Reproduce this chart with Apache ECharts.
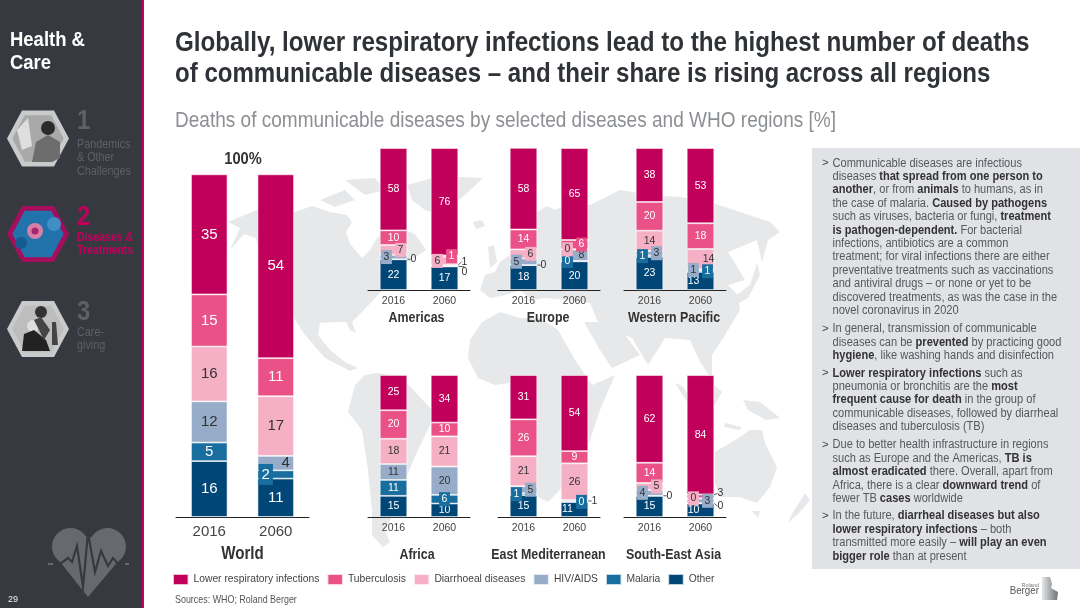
<!DOCTYPE html>
<html>
<head>
<meta charset="utf-8">
<title>Deaths of communicable diseases</title>
<style>
html, body { margin: 0; padding: 0; background: #fff; }
#main { width: 1080px; height: 608px; }
</style>
<script src="https://cdn.jsdelivr.net/npm/echarts@6/dist/echarts.min.js"></script>
</head>
<body>
<div id="main"></div>
<script>
// chart data, [2016, 2060] per region, unrounded values
var regions = ['World', 'Americas', 'Europe', 'Western Pacific', 'Africa', 'East Mediterranean', 'South-East Asia'];
var years = ['2016', '2060'];
var other = [[16.3, 11.2], [21.6, 16.6], [17.5, 20.2], [23.3, 12.7], [14.9, 9.5], [15.4, 10.6], [14.9, 9.6]];
var malaria = [[5.4, 2.4], [0.1, 0.1], [0.1, 0.3], [1.1, 0.9], [11.2, 6.1], [1.3, 0.1], [0.1, 0.2]];
var hiv = [[12, 4.2], [3, 0.9], [4.7, 8], [3, 1], [11.2, 19.9], [5, 1.2], [4, 3.2]];
var diarrhoeal = [[16, 17.4], [7, 5.8], [6.3, 0.3], [14.4, 14.3], [17.8, 21.3], [21.1, 25.9], [5, 0.2]];
var tuberculosis = [[15.2, 11.1], [10.3, 1], [14, 6.4], [20.2, 18.1], [20.1, 9.7], [26, 8.6], [14.2, 2.7]];
var lowerResp = [[35, 53.6], [58, 75.6], [57.5, 64.8], [38, 53], [24.8, 33.5], [31.2, 53.6], [61.8, 84]];

var seriesNames = ['Other', 'Malaria', 'HIV/AIDS', 'Diarrhoeal diseases', 'Tuberculosis', 'Lower respiratory infections'];
var seriesValues = [other, malaria, hiv, diarrhoeal, tuberculosis, lowerResp];
var seriesColors = ['#004677', '#186e9f', '#97acc8', '#f6b0c6', '#ea5186', '#c1005c'];
var labelColors = ['#fff', '#fff', '#333', '#333', '#fff', '#fff'];
var legendOrder = ['Lower respiratory infections', 'Tuberculosis', 'Diarrhoeal diseases', 'HIV/AIDS', 'Malaria', 'Other'];

// grid boxes: left, width, top, height, bar width
var gridBoxes = [
    [176, 133, 174, 343, 36.5],
    [368, 102, 148, 142, 27.5],
    [498, 102, 148, 142, 27.5],
    [624, 102, 148, 142, 27.5],
    [368, 102, 375, 142, 27.5],
    [498, 102, 375, 142, 27.5],
    [624, 102, 375, 142, 27.5]
];
var titleY = [554, 318, 318, 318, 555, 555, 555];
var titleShiftX = [0, -2.5, -1, -1, -2, -0.5, -1.5];

// moved labels: region, year, series, dx, dy, kind
var OTHER = 0, MAL = 1, HIV = 2, DIA = 3, TB = 4;
var labelNudges = [
    [0, 1, MAL, -10, 0, 'box'], [0, 1, HIV, 10, 0, 'plain'],
    [1, 0, DIA, 7, 0, 'box'], [1, 0, HIV, -7, 0, 'box'], [1, 0, MAL, 20, 0, 'line'],
    [1, 1, TB, 7, 0, 'box'], [1, 1, DIA, -7, 0, 'box'], [1, 1, HIV, 20, -4, 'line'], [1, 1, MAL, 20, 6, 'line'],
    [2, 0, DIA, 7, 0, 'box'], [2, 0, HIV, -7, 0, 'box'], [2, 0, MAL, 20, 0, 'line'],
    [2, 1, TB, 7, 0, 'box'], [2, 1, DIA, -7, 0, 'box'], [2, 1, HIV, 7, 0, 'plain'], [2, 1, MAL, -7, 0, 'box'],
    [3, 0, MAL, -7, 0, 'box'], [3, 0, HIV, 7, 0, 'box'],
    [3, 1, DIA, 8, 0, 'plain'], [3, 1, HIV, -7, 0, 'box'], [3, 1, MAL, 7, 0, 'box'], [3, 1, OTHER, -7, 0, 'plain'],
    [4, 1, MAL, 0, 0, 'box'],
    [5, 0, MAL, -7, 0, 'box'], [5, 0, HIV, 7, 0, 'box'],
    [5, 1, OTHER, -7, 0, 'plain'], [5, 1, MAL, 7, 0, 'box'], [5, 1, HIV, 20, 0, 'line'],
    [6, 0, DIA, 7, 0, 'box'], [6, 0, HIV, -7, 0, 'box'], [6, 0, MAL, 20, 0, 'line'],
    [6, 1, DIA, -7, 0, 'box'], [6, 1, HIV, 7, 0, 'box'], [6, 1, OTHER, -7, 0, 'plain'], [6, 1, TB, 20, -3, 'line'], [6, 1, MAL, 20, 3, 'line']
];

var panelText = [
    ['Communicable diseases are infectious',
     'diseases {b|that spread from one person to}',
     '{b|another}, or from {b|animals} to humans, as in',
     'the case of malaria. {b|Caused by pathogens}',
     'such as viruses, bacteria or fungi, {b|treatment}',
     '{b|is pathogen-dependent.} For bacterial',
     'infections, antibiotics are a common',
     'treatment; for viral infections there are either',
     'preventative treatments such as vaccinations',
     'and antiviral drugs \u2013 or none or yet to be',
     'discovered treatments, as was the case in the',
     'novel coronavirus in 2020'],
    ['In general, transmission of communicable',
     'diseases can be {b|prevented} by practicing good',
     '{b|hygiene}, like washing hands and disinfection'],
    ['{b|Lower respiratory infections} such as',
     'pneumonia or bronchitis are the {b|most}',
     '{b|frequent cause for death} in the group of',
     'communicable diseases, followed by diarrheal',
     'diseases and tuberculosis (TB)'],
    ['Due to better health infrastructure in regions',
     'such as Europe and the Americas, {b|TB is}',
     '{b|almost eradicated} there. Overall, apart from',
     'Africa, there is a clear {b|downward trend} of',
     'fewer TB {b|cases} worldwide'],
    ['In the future, {b|diarrheal diseases but also}',
     '{b|lower respiratory infections} \u2013 both',
     'transmitted more easily \u2013 {b|will play an even}',
     '{b|bigger role} than at present']
];
var panelY = [163.3, 329, 373.3, 445, 516];

// background map, rough outlines
var mapShapes = [
    [[228,222],[240,217],[257,210],[295,212],[312,206],[330,212],[347,215],[352,222],[346,232],[350,244],[362,258],[370,250],[377,238],[395,226],[415,234],[426,250],[408,262],[398,272],[378,295],[362,312],[352,322],[356,333],[350,330],[346,322],[335,322],[320,323],[318,335],[330,350],[345,362],[358,368],[350,371],[325,358],[305,335],[295,320],[280,290],[262,262],[256,238],[244,234],[230,250],[240,228]],
    [[377,373],[400,376],[418,395],[432,410],[430,425],[418,450],[405,480],[395,510],[385,530],[390,542],[383,547],[372,535],[372,510],[368,470],[362,430],[348,412],[355,385],[365,375]],
    [[500,312],[482,322],[470,340],[468,358],[478,378],[495,385],[510,383],[528,392],[534,410],[534,440],[532,470],[538,497],[548,502],[560,490],[575,470],[590,440],[600,410],[615,375],[592,385],[575,360],[558,330],[540,318],[520,318]],
    [[485,275],[480,290],[490,298],[505,295],[520,290],[532,300],[545,298],[570,300],[590,303],[598,322],[584,322],[600,350],[612,368],[640,355],[625,335],[632,338],[648,365],[665,338],[690,340],[700,362],[712,380],[712,355],[725,335],[740,310],[738,295],[728,285],[745,280],[728,252],[757,240],[762,262],[768,240],[780,232],[770,222],[740,212],[713,203],[680,197],[650,195],[620,190],[590,205],[565,205],[555,210],[547,206],[532,215],[525,240],[515,232],[510,255],[500,262],[495,272]],
    [[407,185],[440,176],[483,178],[465,195],[440,215],[425,210],[412,200]],
    [[320,200],[345,190],[355,200],[335,207]],
    [[345,180],[375,178],[385,190],[365,195]],
    [[473,222],[482,220],[485,226],[476,229]],
    [[488,247],[494,245],[497,262],[490,268]],
    [[757,263],[760,275],[748,298],[735,305],[733,298],[750,285]],
    [[675,383],[682,386],[695,404],[689,405]],
    [[695,398],[712,383],[722,392],[712,410],[700,408]],
    [[725,423],[741,427],[740,430],[724,427]],
    [[693,340],[702,340],[704,354],[696,352]],
    [[743,400],[760,402],[780,418],[766,420],[748,410]],
    [[715,452],[740,437],[750,430],[762,430],[765,443],[777,467],[770,487],[757,503],[740,497],[720,497],[715,483]],
    [[752,511],[760,511],[758,518]],
    [[805,493],[810,500],[800,512],[788,523],[792,514]]
];

// sidebar entries: hexagon centre y, offset of the first text line, colours
var sideItems = [
    {y: 138.5, first: 5.5, num: '1', lines: ['Pandemics', '& Other', 'Challenges'], border: '#c9cacc', fill: '#a9a9a9', color: '#5d6167', bold: false},
    {y: 234, first: 3, num: '2', lines: ['Diseases &', 'Treatments'], border: '#a50e5a', fill: '#2272ac', color: '#c1005c', bold: true},
    {y: 329, first: 3, num: '3', lines: ['Care-', 'giving'], border: '#c9cacc', fill: '#bdbdbd', color: '#5d6167', bold: false}
];

var sans = '"Liberation Sans", Arial, sans-serif';

function findNudge(r, y, s) {
    for (var i = 0; i < labelNudges.length; i++) {
        var n = labelNudges[i];
        if (n[0] === r && n[1] === y && n[2] === s) {
            return n;
        }
    }
    return null;
}

function hexagon(cx, cy, k) {
    var a = 31 * k, b = 16 * k, h = 28 * k;
    return [[cx - a, cy], [cx - b, cy - h], [cx + b, cy - h], [cx + a, cy], [cx + b, cy + h], [cx - b, cy + h]];
}

// the original face is condensed, so text is squeezed with scaleX
function textEl(x, y, text, size, color, weight, align, squeeze) {
    return {
        type: 'text', x: x, y: y, z: 5, scaleX: squeeze || 1,
        style: {
            text: text, fontSize: size, fontFamily: sans, fill: color,
            fontWeight: weight || 'normal', align: align || 'left', verticalAlign: 'middle'
        }
    };
}

function poly(points, color, z) {
    return {type: 'polygon', z: z, shape: {points: points}, style: {fill: color}};
}

function buildGraphic() {
    var els = [];
    var i, j;

    // map goes under everything
    mapShapes.forEach(function (pts) {
        els.push(poly(pts, '#e7e8ea', -2));
    });

    // right panel
    els.push({type: 'rect', z: -1, shape: {x: 812, y: 148, width: 268, height: 421}, style: {fill: '#e0e2e6'}});

    // sidebar
    els.push({type: 'rect', z: 1, shape: {x: 0, y: 0, width: 142, height: 608}, style: {fill: '#363a40'}});
    els.push({type: 'rect', z: 1, shape: {x: 142, y: 0, width: 2, height: 608}, style: {fill: '#c1005c'}});
    els.push(textEl(10, 40, 'Health &', 21, '#fff', 'bold', 'left', 0.88));
    els.push(textEl(10, 63, 'Care', 21, '#fff', 'bold', 'left', 0.88));

    sideItems.forEach(function (item) {
        els.push(poly(hexagon(38, item.y, 1), item.border, 2));
        els.push(poly(hexagon(38, item.y, 0.83), item.fill, 3));
        els.push(textEl(77, item.y - 16.5, item.num, 27, item.color, 'bold', 'left', 0.88));
        for (j = 0; j < item.lines.length; j++) {
            els.push(textEl(77, item.y + item.first + j * 13.5, item.lines[j], 13, item.color, item.bold ? 'bold' : 'normal', 'left', item.bold ? 0.81 : 0.83));
        }
    });

    // thumbnail contents, rough silhouettes
    els.push({type: 'circle', z: 4, shape: {cx: 48, cy: 128, r: 7}, style: {fill: '#2a2a2a'}});
    els.push(poly([[32, 162], [36, 142], [48, 135], [60, 142], [60, 158], [52, 162]], '#6d6d6d', 4));
    els.push(poly([[17, 130], [28, 118], [32, 146], [22, 150]], '#dedede', 4));
    els.push({type: 'circle', z: 4, shape: {cx: 35, cy: 231, r: 8}, style: {fill: '#d77fa9'}});
    els.push({type: 'circle', z: 4, shape: {cx: 35, cy: 231, r: 3.5}, style: {fill: '#a5256e'}});
    els.push({type: 'circle', z: 4, shape: {cx: 54, cy: 224, r: 7}, style: {fill: '#3f8fc6'}});
    els.push({type: 'circle', z: 4, shape: {cx: 21, cy: 243, r: 6}, style: {fill: '#175a92'}});
    els.push({type: 'circle', z: 4, shape: {cx: 41, cy: 312, r: 6}, style: {fill: '#333'}});
    els.push({type: 'circle', z: 4, shape: {cx: 33, cy: 326, r: 6}, style: {fill: '#ddd'}});
    els.push(poly([[22, 351], [24, 334], [34, 330], [46, 340], [50, 351]], '#222', 4));
    els.push(poly([[34, 320], [41, 317], [50, 330], [44, 340]], '#444', 4));
    els.push(poly([[52, 322], [56, 322], [58, 345], [52, 345]], '#444', 4));

    // heart icon
    els.push({type: 'circle', z: 2, shape: {cx: 70.5, cy: 546.5, r: 18.5}, style: {fill: '#66696e'}});
    els.push({type: 'circle', z: 2, shape: {cx: 107.5, cy: 546.5, r: 18.5}, style: {fill: '#66696e'}});
    els.push(poly([[53, 553], [88, 597], [125, 553], [88, 536]], '#66696e', 2));
    els.push({
        type: 'polyline', z: 3,
        shape: {points: [[48, 564], [60, 564], [68, 558], [72, 562], [77, 546], [83, 587], [88, 533], [95, 572], [101, 551], [108, 566], [113, 558], [118, 564], [129, 564]]},
        style: {stroke: '#363a40', lineWidth: 2.2, fill: null}
    });
    els.push({type: 'rect', z: 4, shape: {x: 48, y: 563, width: 5, height: 2}, style: {fill: '#66696e'}});
    els.push({type: 'rect', z: 4, shape: {x: 125, y: 563, width: 4, height: 2}, style: {fill: '#66696e'}});
    els.push(textEl(8, 600, '29', 9, '#eee'));

    // headings
    els.push(textEl(175, 43, 'Globally, lower respiratory infections lead to the highest number of deaths', 28, '#2f3236', 'bold', 'left', 0.864));
    els.push(textEl(175, 74, 'of communicable diseases \u2013 and their share is rising across all regions', 28, '#2f3236', 'bold', 'left', 0.859));
    els.push(textEl(175, 121, 'Deaths of communicable diseases by selected diseases and WHO regions [%]', 21.5, '#8c8f93', 'normal', 'left', 0.885));
    els.push(textEl(243, 159, '100%', 17, '#333', 'bold', 'center', 0.86));

    // chart titles
    for (i = 0; i < regions.length; i++) {
        var box = gridBoxes[i];
        els.push(textEl(box[0] + box[1] / 2 + titleShiftX[i], titleY[i], regions[i], i === 0 ? 18 : 15.5, '#333', 'bold', 'center', i === 0 ? 0.84 : 0.8));
    }

    // panel text
    panelText.forEach(function (lines, p) {
        els.push(textEl(822, panelY[p], '>', 11.5, '#444'));
        lines.forEach(function (line, k) {
            els.push({
                type: 'text', x: 832.5, y: panelY[p] + k * 13.4, z: 5, scaleX: 0.9,
                style: {
                    text: line, fontSize: 12.3, fontFamily: sans, fill: '#55585c', verticalAlign: 'middle',
                    rich: {b: {fontSize: 12.3, fontFamily: sans, fontWeight: 'bold', fill: '#333'}}
                }
            });
        });
    });

    // footer
    els.push(textEl(175, 600, 'Sources: WHO; Roland Berger', 11, '#555', 'normal', 'left', 0.81));
    els.push(textEl(1039, 585, 'Roland', 5.5, '#777', 'normal', 'right'));
    els.push(textEl(1039, 591, 'Berger', 11.5, '#555', 'normal', 'right', 0.85));
    els.push({
        type: 'polygon', z: 4,
        shape: {points: [[1042, 577], [1050, 577], [1052, 584], [1051, 588], [1058, 592], [1057, 600], [1042, 600]]},
        style: {fill: {type: 'linear', x: 0, y: 0, x2: 1, y2: 0, colorStops: [{offset: 0, color: '#e4e5e6'}, {offset: 1, color: '#6e7276'}]}}
    });
    return els;
}

function buildSeries() {
    var series = [];
    regions.forEach(function (region, r) {
        var size = r === 0 ? 15 : 10.5;
        seriesNames.forEach(function (name, s) {
            var data = seriesValues[s][r].map(function (v, y) {
                var item = {value: v};
                var nudge = findNudge(r, y, s);
                if (nudge) {
                    var kind = nudge[5];
                    item.label = {
                        color: kind === 'line' ? '#333' : labelColors[s],
                        backgroundColor: kind === 'box' ? seriesColors[s] : 'transparent',
                        padding: kind === 'box' ? (r === 0 ? [3, 3] : [1.5, 2.5]) : 0
                    };
                    if (kind === 'line') {
                        item.labelLine = {show: true, lineStyle: {color: '#333', width: 0.8}};
                    }
                }
                return item;
            });
            series.push({
                name: name,
                type: 'bar',
                stack: 'stack' + r,
                xAxisIndex: r,
                yAxisIndex: r,
                barWidth: gridBoxes[r][4],
                itemStyle: {color: seriesColors[s], borderColor: 'rgba(255,255,255,0.75)', borderWidth: 0.8},
                label: {
                    show: true,
                    position: 'inside',
                    fontFamily: sans,
                    fontSize: size,
                    color: labelColors[s],
                    formatter: function (p) {
                        return String(Math.round(p.value));
                    }
                },
                labelLayout: function (p) {
                    var n = findNudge(r, p.dataIndex, s);
                    return n ? {dx: n[3], dy: n[4]} : {};
                },
                data: data,
                silent: true,
                animation: false
            });
        });
    });
    return series;
}

var myChart = echarts.init(document.getElementById('main'), null, {renderer: 'canvas'});

var option = {
    animation: false,
    backgroundColor: '#fff',
    legend: {
        left: 167,
        top: 568,
        itemWidth: 15.5,
        itemHeight: 11,
        itemGap: 7,
        icon: 'rect',
        data: legendOrder,
        textStyle: {fontFamily: sans, fontSize: 10.3, color: '#444'},
        selectedMode: false
    },
    grid: gridBoxes.map(function (b) {
        return {left: b[0], width: b[1], top: b[2], height: b[3], containLabel: false};
    }),
    xAxis: gridBoxes.map(function (b, i) {
        return {
            type: 'category',
            gridIndex: i,
            data: years,
            axisTick: {show: false},
            axisLine: {lineStyle: {color: '#222', width: 1}},
            axisLabel: {fontFamily: sans, fontSize: i === 0 ? 15 : 10.5, color: '#444', margin: i === 0 ? 7 : 6}
        };
    }),
    yAxis: gridBoxes.map(function (b, i) {
        return {type: 'value', gridIndex: i, min: 0, max: 100, show: false};
    }),
    series: buildSeries(),
    graphic: {elements: buildGraphic()}
};
myChart.setOption(option);
</script>
</body>
</html>
